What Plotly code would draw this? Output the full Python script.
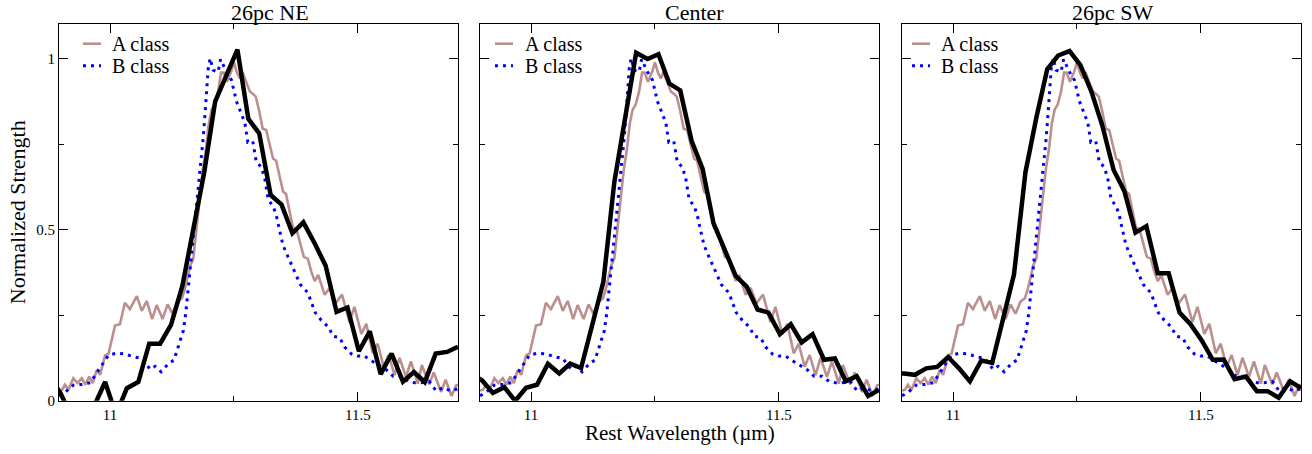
import plotly.graph_objects as go
from plotly.subplots import make_subplots

# ---------------- data ----------------
PANEL_TITLES = ["26pc NE", "Center", "26pc SW"]
SERIES_NAMES = ["A class", "B class"]

# template A class (same in every panel)
A_WL = [10.897, 10.903, 10.909, 10.916, 10.926, 10.934, 10.943, 10.950, 10.958, 10.965,
        10.973, 10.980, 10.990, 10.997, 11.010, 11.020, 11.030, 11.040, 11.054, 11.064,
        11.074, 11.085, 11.094, 11.106, 11.116, 11.126, 11.136, 11.145, 11.150, 11.156,
        11.162, 11.168, 11.172, 11.178, 11.182, 11.187, 11.194, 11.199, 11.205, 11.211,
        11.218, 11.224, 11.229, 11.236, 11.245, 11.250, 11.256, 11.262, 11.267, 11.276,
        11.282, 11.289, 11.294, 11.301, 11.308, 11.315, 11.322, 11.329, 11.335, 11.342,
        11.349, 11.355, 11.362, 11.369, 11.376, 11.384, 11.391, 11.399, 11.406, 11.413,
        11.420, 11.433, 11.443, 11.455, 11.468, 11.483, 11.493, 11.507, 11.517, 11.530,
        11.540, 11.552, 11.562, 11.574, 11.584, 11.597, 11.607, 11.621, 11.629, 11.644,
        11.653, 11.668, 11.677, 11.689, 11.698, 11.702]
A_VAL = [0.030, 0.032, 0.047, 0.032, 0.066, 0.052, 0.066, 0.047, 0.071, 0.052,
         0.090, 0.076, 0.133, 0.138, 0.220, 0.224, 0.287, 0.268, 0.306, 0.263,
         0.292, 0.239, 0.280, 0.239, 0.282, 0.255, 0.290, 0.300, 0.322, 0.359,
         0.397, 0.416, 0.474, 0.550, 0.617, 0.675, 0.742, 0.809, 0.852, 0.866,
         0.905, 0.960, 0.960, 0.933, 0.965, 0.990, 0.960, 0.943, 0.962, 0.930,
         0.905, 0.897, 0.890, 0.847, 0.796, 0.792, 0.746, 0.708, 0.703, 0.655,
         0.612, 0.605, 0.560, 0.507, 0.502, 0.455, 0.421, 0.416, 0.378, 0.350,
         0.368, 0.310, 0.330, 0.285, 0.311, 0.230, 0.275, 0.196, 0.225, 0.139,
         0.167, 0.100, 0.134, 0.075, 0.126, 0.070, 0.115, 0.050, 0.105, 0.048,
         0.083, 0.026, 0.062, 0.014, 0.045, 0.047]

# template B class (same in every panel)
B_WL = [10.897, 10.909, 10.926, 10.943, 10.960, 10.973, 10.985, 10.997, 11.013, 11.030,
        11.047, 11.064, 11.081, 11.091, 11.103, 11.118, 11.129, 11.136, 11.143, 11.148,
        11.153, 11.158, 11.163, 11.168, 11.172, 11.176, 11.180, 11.184, 11.188, 11.192,
        11.195, 11.198, 11.202, 11.208, 11.218, 11.223, 11.235, 11.245, 11.255, 11.265,
        11.272, 11.278, 11.288, 11.295, 11.305, 11.312, 11.319, 11.329, 11.335, 11.340,
        11.349, 11.359, 11.366, 11.376, 11.384, 11.399, 11.406, 11.414, 11.426, 11.441,
        11.450, 11.463, 11.473, 11.487, 11.500, 11.513, 11.530, 11.547, 11.557, 11.571,
        11.587, 11.601, 11.614, 11.628, 11.644, 11.658, 11.671, 11.688, 11.702]
B_VAL = [0.015, 0.024, 0.046, 0.048, 0.053, 0.081, 0.110, 0.134, 0.139, 0.137,
         0.129, 0.124, 0.092, 0.101, 0.085, 0.109, 0.119, 0.150, 0.180, 0.206,
         0.260, 0.330, 0.400, 0.470, 0.530, 0.590, 0.645, 0.700, 0.770, 0.847,
         0.914, 0.971, 1.002, 0.967, 0.962, 0.999, 0.962, 0.938, 0.876, 0.842,
         0.813, 0.756, 0.759, 0.699, 0.684, 0.651, 0.589, 0.569, 0.545, 0.512,
         0.455, 0.421, 0.397, 0.368, 0.340, 0.316, 0.287, 0.258, 0.236, 0.215,
         0.189, 0.185, 0.158, 0.137, 0.131, 0.131, 0.115, 0.100, 0.091, 0.072,
         0.072, 0.057, 0.053, 0.053, 0.057, 0.029, 0.038, 0.029, 0.035]

# observed spectra (black), one per panel
OBS_WL = [10.879, 10.901, 10.923, 10.946, 10.968, 10.990, 11.012, 11.034, 11.057, 11.079,
          11.101, 11.123, 11.146, 11.168, 11.190, 11.212, 11.235, 11.257, 11.279, 11.301,
          11.324, 11.346, 11.368, 11.390, 11.413, 11.435, 11.457, 11.479, 11.502, 11.524,
          11.546, 11.568, 11.591, 11.613, 11.635, 11.657, 11.680, 11.702]
OBS_NE = [0.070, 0.020, -0.050, -0.060, -0.015, 0.055, -0.040, 0.037, 0.055, 0.167,
          0.167, 0.222, 0.337, 0.497, 0.668, 0.875, 0.950, 1.027, 0.825, 0.782,
          0.602, 0.574, 0.490, 0.522, 0.460, 0.395, 0.260, 0.273, 0.145, 0.203,
          0.078, 0.138, 0.056, 0.084, 0.055, 0.138, 0.143, 0.158]
OBS_CENTER = [0.080, 0.060, 0.023, 0.040, 0.000, 0.038, 0.047, 0.108, 0.080, 0.109,
              0.096, 0.220, 0.349, 0.640, 0.820, 1.018, 1.000, 1.014, 0.928, 0.908,
              0.760, 0.679, 0.520, 0.447, 0.365, 0.334, 0.267, 0.258, 0.195, 0.224,
              0.171, 0.195, 0.120, 0.124, 0.057, 0.072, 0.014, 0.032]
OBS_SW = [0.080, 0.080, 0.076, 0.095, 0.099, 0.128, 0.095, 0.057, 0.118, 0.111,
          0.240, 0.370, 0.668, 0.828, 0.970, 1.010, 1.023, 0.982, 0.905, 0.806,
          0.675, 0.612, 0.492, 0.511, 0.373, 0.373, 0.258, 0.224, 0.176, 0.120,
          0.121, 0.063, 0.071, 0.028, 0.028, 0.009, 0.057, 0.037]
OBS = [OBS_NE, OBS_CENTER, OBS_SW]

X_TITLE = "Rest Wavelength (µm)"
Y_TITLE = "Normalized Strength"

# ---------------- style / layout ----------------
W, H = 1312, 454
FONT = "Liberation Serif, Times New Roman, serif"
A_COLOR = "#BC8F8F"
B_COLOR = "#0000FF"
DOT = "3px,5px"
PANEL_PX = [(59, 458), (480, 879), (902, 1301)]
TOP_PX, BOTTOM_PX = 24.5, 408
X_RANGE = [10.897, 11.702]
Y_RANGE = [0, 1.102]
TITLE_CX = [269.5, 694, 1113]
LEG_LINE_OFF = [24, 15, 10]
LEG_TEXT_OFF = [51, 43, 37]
LEG_ROWS = [44.5, 67.0]


def fx(px):
    return px / W


def fy(py):
    return 1 - py / H


fig = make_subplots(rows=1, cols=3)

for i in range(3):
    c = i + 1
    fig.add_trace(go.Scatter(x=A_WL, y=A_VAL, mode="lines", name=SERIES_NAMES[0],
                             line=dict(color=A_COLOR, width=2.6), showlegend=False),
                  row=1, col=c)
    fig.add_trace(go.Scatter(x=B_WL, y=B_VAL, mode="lines", name=SERIES_NAMES[1],
                             line=dict(color=B_COLOR, width=3, dash=DOT), showlegend=False),
                  row=1, col=c)
    fig.add_trace(go.Scatter(x=OBS_WL, y=OBS[i], mode="lines", name=PANEL_TITLES[i],
                             line=dict(color="black", width=4.5), showlegend=False),
                  row=1, col=c)

axis_common = dict(showline=True, linecolor="black", linewidth=1.2, mirror="ticks",
                   ticks="inside", ticklen=9, tickwidth=1.2, tickcolor="black",
                   showgrid=False, zeroline=False,
                   tickfont=dict(family=FONT, size=15, color="black"))

for i in range(3):
    l, r = PANEL_PX[i]
    xk = "xaxis" if i == 0 else f"xaxis{i+1}"
    yk = "yaxis" if i == 0 else f"yaxis{i+1}"
    fig.layout[xk].update(domain=[fx(l), fx(r)], range=X_RANGE, tick0=11, dtick=0.5,
                          minor=dict(ticks="inside", ticklen=5, dtick=0.25, tick0=11,
                                     tickcolor="black", tickwidth=1.2, showgrid=False),
                          **axis_common)
    fig.layout[yk].update(domain=[fy(BOTTOM_PX), fy(TOP_PX)], range=Y_RANGE, tick0=0,
                          dtick=0.5, showticklabels=(i == 0),
                          minor=dict(ticks="inside", ticklen=5, dtick=0.25, tick0=0,
                                     tickcolor="black", tickwidth=1.2, showgrid=False),
                          **axis_common)

annotations = []
shapes = []
for i in range(3):
    l, r = PANEL_PX[i]
    annotations.append(dict(text=PANEL_TITLES[i], x=fx(TITLE_CX[i]), y=fy(13),
                            xref="paper", yref="paper", xanchor="center", yanchor="middle",
                            showarrow=False, font=dict(family=FONT, size=22, color="black")))
    for j, name in enumerate(SERIES_NAMES):
        yy = fy(LEG_ROWS[j])
        annotations.append(dict(text=name, x=fx(l + LEG_TEXT_OFF[i]), y=yy,
                                xref="paper", yref="paper", xanchor="left", yanchor="middle",
                                showarrow=False,
                                font=dict(family=FONT, size=20, color="black")))
        x0 = fx(l + LEG_LINE_OFF[i])
        x1 = fx(l + LEG_LINE_OFF[i] + 18)
        if j == 0:
            ln = dict(color=A_COLOR, width=2.6)
        else:
            ln = dict(color=B_COLOR, width=3, dash=DOT)
        shapes.append(dict(type="line", xref="paper", yref="paper",
                           x0=x0, x1=x1, y0=yy, y1=yy, line=ln))

annotations.append(dict(text=X_TITLE, x=fx(680), y=fy(440.5), xref="paper", yref="paper",
                        xanchor="center", yanchor="middle", showarrow=False,
                        font=dict(family=FONT, size=21, color="black")))
annotations.append(dict(text=Y_TITLE, x=fx(17.5), y=fy(216.5), xref="paper", yref="paper",
                        xanchor="center", yanchor="middle", showarrow=False, textangle=-90,
                        font=dict(family=FONT, size=22, color="black")))

fig.update_layout(width=W, height=H, margin=dict(l=0, r=0, t=0, b=0),
                  plot_bgcolor="white", paper_bgcolor="white",
                  annotations=annotations, shapes=shapes, showlegend=False,
                  font=dict(family=FONT, color="black"))

fig.write_html("out.html", config={"displayModeBar": False},
               post_script="document.body.style.margin='0';")
